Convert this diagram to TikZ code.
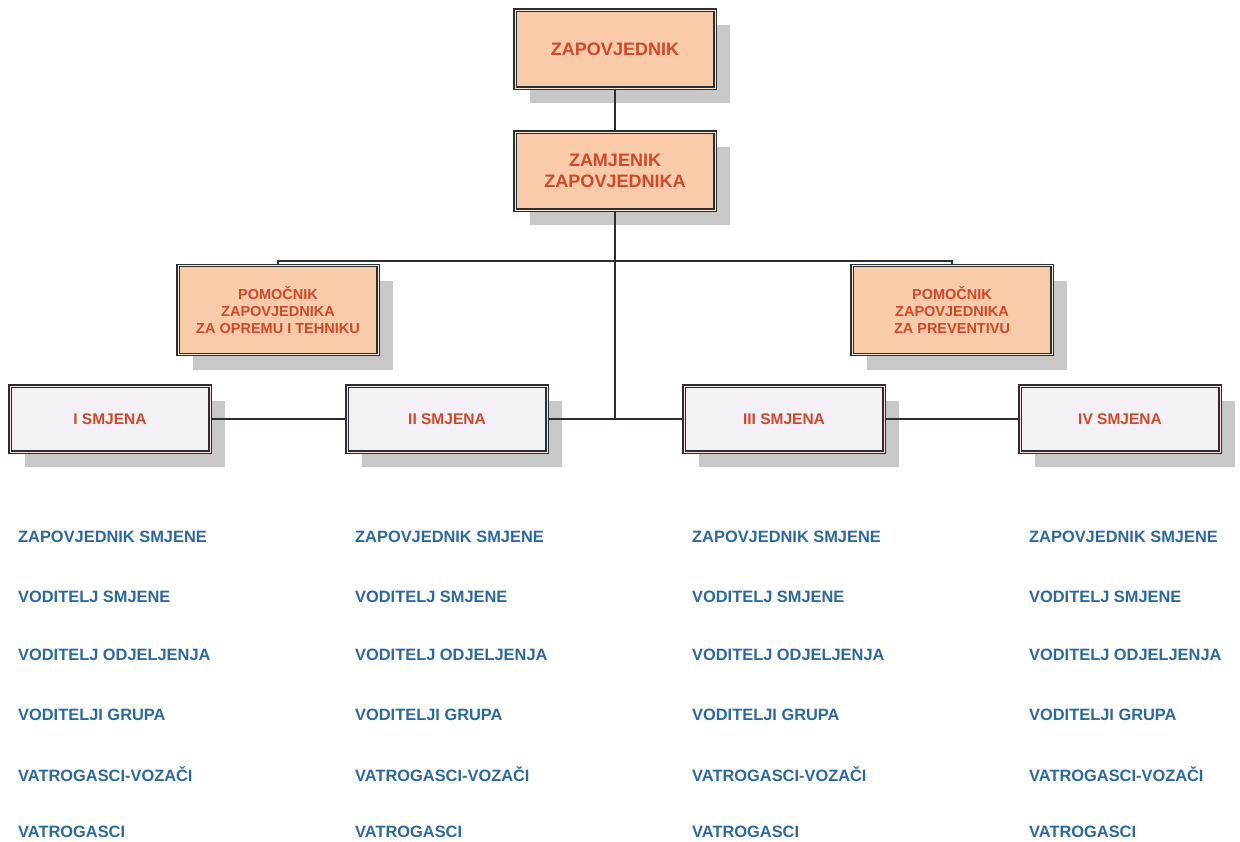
\documentclass[tikz,border=0pt]{standalone}
\usepackage{fontspec}
\setmainfont{Liberation Sans}
\usepackage{tikz}
\usetikzlibrary{shadows,positioning,calc}
\definecolor{ZPeach} {RGB}{250,203,168}
\definecolor{ZLilac} {RGB}{243,241,246}
\definecolor{ZRed}   {RGB}{206, 72, 42}
\definecolor{ZBlue}  {RGB}{ 42,104,160}
\definecolor{ZLine}  {RGB}{ 40, 48, 52}
\definecolor{ZShadow}{RGB}{200,200,200}

\begin{document}
\begin{tikzpicture}[
  x=1pt, y=-1pt,
  frame/.style = {draw=ZLine, line width=1.3pt, double distance=1pt,
                  inner sep=0pt, align=center, text=ZRed,
                  general shadow={fill=ZShadow, shadow xshift=15pt,
                                  shadow yshift=-15pt}},
  boss/.style  = {frame, double=ZPeach!40!white, fill=ZPeach,
                  minimum width=200pt, minimum height=78pt,
                  font=\fontsize{18}{20.5}\selectfont\bfseries},
  helper/.style= {frame, double=ZPeach!40!white, fill=ZPeach,
                  minimum width=200pt, minimum height=89pt,
                  font=\fontsize{14.5}{17}\selectfont\bfseries},
  smjena/.style= {frame, double=ZRed!15!white, fill=ZLilac,
                  minimum width=200pt, minimum height=66pt,
                  font=\fontsize{15.5}{18}\selectfont\bfseries},
  role/.style  = {anchor=west, inner sep=0pt, text=ZBlue,
                  font=\fontsize{16.4}{18}\selectfont\bfseries},
  link/.style  = {draw=ZLine, line width=1.8pt}
]
\useasboundingbox (0,0) rectangle (1240,841);

% upper part
\node[boss] (zap) at (615,49)  {ZAPOVJEDNIK};
\node[boss] (zam) at (615,171) {ZAMJENIK\\ZAPOVJEDNIKA};
\node[helper] (pomL) at (278,310)
  {POMOČNIK\\ZAPOVJEDNIKA\\ZA OPREMU I TEHNIKU};
\node[helper] (pomR) at (952,310)
  {POMOČNIK\\ZAPOVJEDNIKA\\ZA PREVENTIVU};

% shifts
\node[smjena] (s1) at (110,419)  {I SMJENA};
\node[smjena] (s2) at (447,419)  {II SMJENA};
\node[smjena] (s3) at (784,419)  {III SMJENA};
\node[smjena] (s4) at (1120,419) {IV SMJENA};

\coordinate (bus) at ($(zam.south)+(0,50)$);
\coordinate (jct) at (zam.south |- s2.east);

\draw[link] (zap) -- (zam);
\draw[link] (zam) -- (jct);
\draw[link] (pomL.north) |- (bus) -| (pomR.north);
\draw[link] (s1) -- (s2);
\draw[link] (s2) -- (s3);
\draw[link] (s3) -- (s4);

% staff lists under each shift
\foreach \c/\x in {1/18,2/355,3/692,4/1029}
  \foreach \t/\y [count=\r] in {ZAPOVJEDNIK SMJENE/537,
                                VODITELJ SMJENE/597,
                                VODITELJ ODJELJENJA/655,
                                VODITELJI GRUPA/715,
                                VATROGASCI-VOZAČI/774,
                                VATROGASCI/832}
    \node[role] (r\c-\r) at (\x,\y) {\t};
\end{tikzpicture}
\end{document}
